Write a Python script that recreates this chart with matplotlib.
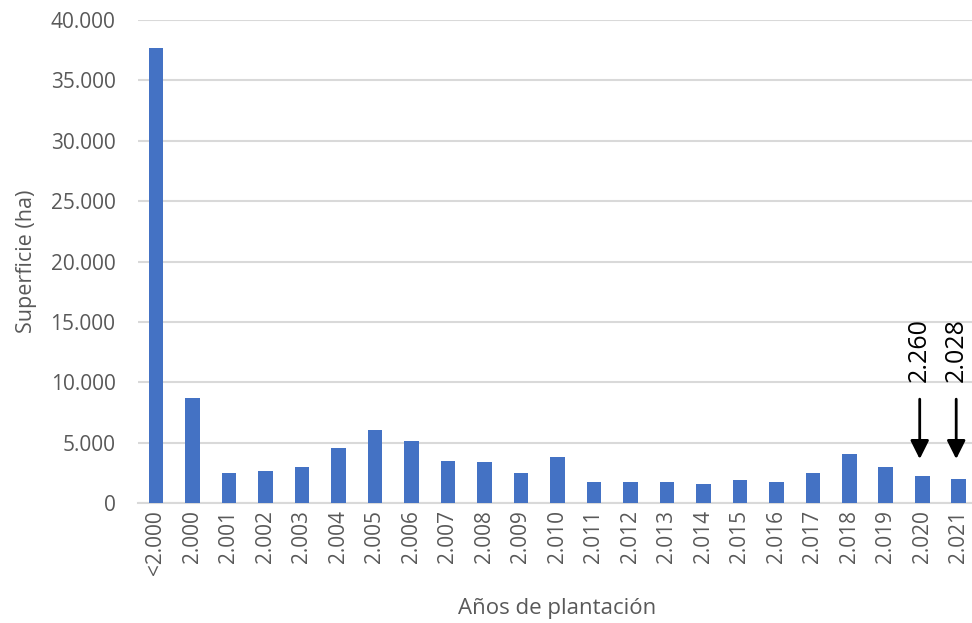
#!/usr/bin/env python3
"""Superficie por años de plantación - bar chart with arrow callouts."""

import matplotlib
matplotlib.use('Agg')
import matplotlib.pyplot as plt
from matplotlib.ticker import FuncFormatter, MultipleLocator

# Data
categorias = ['<2.000', '2.000', '2.001', '2.002', '2.003', '2.004', '2.005',
              '2.006', '2.007', '2.008', '2.009', '2.010', '2.011', '2.012',
              '2.013', '2.014', '2.015', '2.016', '2.017', '2.018', '2.019',
              '2.020', '2.021']
superficie = [37700, 8670, 2460, 2650, 2960, 4530, 6050,
              5130, 3480, 3370, 2460, 3780, 1700, 1760,
              1700, 1580, 1900, 1760, 2450, 4020, 2940,
              2260, 2028]
resaltados = ['2.020', '2.021']

BAR_COLOR = '#4472C4'
GRID_COLOR = '#D9D9D9'
TEXT_COLOR = '#595959'

plt.rcParams['font.family'] = ['Open Sans', 'DejaVu Sans']

fig = plt.figure(figsize=(9.72, 6.23), dpi=100)
W, H = 972, 623
left, right, top, bottom = 137.75, 977, 20, 503
ax = fig.add_axes([left / W, (H - bottom) / H, (right - left) / W, (bottom - top) / H])

x = list(range(len(categorias)))
ax.bar(x, superficie, width=0.4, color=BAR_COLOR, zorder=3)

ax.set_xlim(-0.5, len(categorias) - 0.5)
ax.set_ylim(0, 40000)
ax.yaxis.set_major_locator(MultipleLocator(5000))
ax.yaxis.set_major_formatter(FuncFormatter(lambda v, p: f'{v:,.0f}'.replace(',', '.')))
ax.grid(axis='y', color=GRID_COLOR, linewidth=1.5, zorder=0)
ax.set_axisbelow(True)

for s in ['top', 'right', 'left']:
    ax.spines[s].set_visible(False)
ax.spines['bottom'].set_color(GRID_COLOR)
ax.spines['bottom'].set_linewidth(1.5)

ax.set_xticks(x)
ax.set_xticklabels(categorias, rotation=90)
ax.tick_params(axis='x', length=0, pad=5, labelsize=15, labelcolor=TEXT_COLOR)
ax.tick_params(axis='y', length=0, pad=16, labelsize=15, labelcolor=TEXT_COLOR)

ax.set_ylabel('Superficie (ha)', fontsize=15.5, color=TEXT_COLOR, labelpad=10)
ax.set_xlabel('Años de plantación', fontsize=16, color=TEXT_COLOR, labelpad=17)

# Arrow callouts for the last two years
for cat in resaltados:
    i = categorias.index(cat)
    v = superficie[i]
    ax.annotate('', xy=(i - 0.07, 3640), xytext=(i - 0.07, 8600),
                arrowprops=dict(arrowstyle='-|>', color='black', lw=2,
                                mutation_scale=28, shrinkA=0, shrinkB=0),
                zorder=5, annotation_clip=False)
    ax.text(i - 0.07, 10000, f'{v:,}'.replace(',', '.'), rotation=90,
            ha='center', va='bottom', fontsize=18, color='black', zorder=5)

fig.savefig('out.png', dpi=100, facecolor='white')
